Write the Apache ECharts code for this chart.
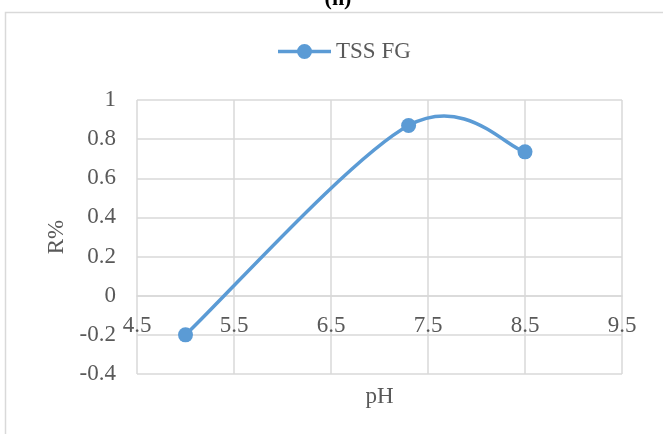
<!DOCTYPE html>
<html>
<head>
<meta charset="utf-8">
<script src="https://cdn.jsdelivr.net/npm/echarts@6/dist/echarts.min.js"></script>
<style>
  html, body { margin: 0; padding: 0; background: #fff; }
  #chart { width: 663px; height: 434px; }
</style>
</head>
<body>
<div id="chart"></div>
<script>
// pH values and removal ratio for TSS with FG
const phValues = [5, 7.3, 8.5];
const removal = [-0.2, 0.87, 0.735];
const seriesName = 'TSS FG';

const serif = '"Liberation Serif", "Times New Roman", serif';
const textColor = '#595959';
const gridColor = '#d9d9d9';
const lineColor = '#5b9bd5';
const fontSize = 23;

const points = phValues.map((x, i) => [x, removal[i]]);

// Legend key: a short line with a dot in the middle (53 x 15 box)
const legendIcon = 'path://M0,5.75L53,5.75L53,9.25L0,9.25Z' +
  'M19,7.5A7.5,7.5 0 1 1 34,7.5A7.5,7.5 0 1 1 19,7.5Z';

// Smoothed segment from point i to i+1 (Catmull-Rom tangents, 1/6 weight),
// mapped to pixels through the cartesian axes.
function renderSegment(params, api) {
  const i = params.dataIndex;
  const n = points.length;
  if (i >= n - 1) return null;
  const P = j => api.coord(points[Math.max(0, Math.min(n - 1, j))]);
  const p0 = P(i - 1), p1 = P(i), p2 = P(i + 1), p3 = P(i + 2);
  return {
    type: 'bezierCurve',
    shape: {
      x1: p1[0], y1: p1[1],
      cpx1: p1[0] + (p2[0] - p0[0]) / 6, cpy1: p1[1] + (p2[1] - p0[1]) / 6,
      cpx2: p2[0] - (p3[0] - p1[0]) / 6, cpy2: p2[1] - (p3[1] - p1[1]) / 6,
      x2: p2[0], y2: p2[1]
    },
    style: { stroke: lineColor, lineWidth: 3.5, fill: null, lineCap: 'round' }
  };
}

const chart = echarts.init(document.getElementById('chart'));
chart.setOption({
  animation: false,
  backgroundColor: '#fff',
  graphic: [
    {
      type: 'rect',
      shape: { x: 5.5, y: 12.5, width: 720, height: 500 },
      style: { fill: 'none', stroke: gridColor, lineWidth: 1.5 }
    },
    {
      type: 'text',
      x: 338, y: -12,
      style: { text: '(n)', font: 'bold 22px ' + serif, fill: '#000', textAlign: 'center' }
    }
  ],
  legend: {
    top: 35,
    left: 273,
    itemWidth: 53,
    itemHeight: 15,
    itemGap: 6,
    textStyle: { fontFamily: serif, fontSize: fontSize, color: textColor },
    data: [{ name: seriesName, icon: legendIcon }]
  },
  grid: { left: 137, right: 41, top: 100, bottom: 60, outerBoundsMode: 'none', containLabel: false },
  xAxis: {
    type: 'value',
    min: 4.5, max: 9.5, interval: 1,
    name: 'pH',
    nameLocation: 'middle',
    nameGap: 89,
    nameTextStyle: { fontFamily: serif, fontSize: fontSize, color: textColor },
    offset: -78,
    axisLine: { show: true, onZero: false, lineStyle: { color: gridColor, width: 1.5 } },
    axisTick: { show: false },
    axisLabel: { fontFamily: serif, fontSize: fontSize, color: textColor, margin: 18,
                 showMinLabel: true, showMaxLabel: true },
    splitLine: { show: true, lineStyle: { color: gridColor, width: 1.5 } }
  },
  yAxis: {
    type: 'value',
    min: -0.4, max: 1, interval: 0.2,
    name: 'R%',
    nameLocation: 'middle',
    nameGap: 64,
    nameTextStyle: { fontFamily: serif, fontSize: fontSize, color: textColor },
    axisLine: { show: false, onZero: false },
    axisTick: { show: false },
    axisLabel: { fontFamily: serif, fontSize: fontSize, color: textColor, margin: 21,
                 formatter: v => String(Math.round(v * 10) / 10) },
    splitLine: { show: true, lineStyle: { color: gridColor, width: 1.5 } }
  },
  series: [
    {
      name: 'curve',
      type: 'custom',
      coordinateSystem: 'cartesian2d',
      clip: false,
      z: 2,
      encode: { x: 0, y: 1 },
      data: points,
      renderItem: renderSegment
    },
    {
      name: seriesName,
      type: 'scatter',
      z: 3,
      data: points,
      symbol: 'circle',
      symbolSize: 15,
      itemStyle: { color: lineColor, opacity: 1 }
    }
  ]
});
</script>
</body>
</html>
